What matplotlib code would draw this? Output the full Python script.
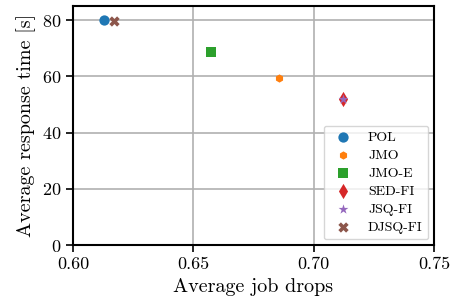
import numpy as np
import matplotlib
matplotlib.use('Agg')
import matplotlib.pyplot as plt

# Computer Modern look
plt.rcParams['font.family'] = 'serif'
plt.rcParams['font.serif'] = ['cmr10']
plt.rcParams['mathtext.fontset'] = 'cm'
plt.rcParams['axes.formatter.use_mathtext'] = True

# Data
policies = ['POL', 'JMO', 'JMO-E', 'SED-FI', 'JSQ-FI', 'DJSQ-FI']
job_drops = [0.6128, 0.6857, 0.6573, 0.7123, 0.7123, 0.6172]
response_time = [80.0, 59.3, 68.5, 51.8, 51.8, 79.8]

markers = ['o', 'h', 's', 'd', '*', 'X']
colors = ['#1f77b4', '#ff7f0e', '#2ca02c', '#d62728', '#9467bd', '#8c564b']
sizes = [55, 35, 50, 60, 55, 55]

fig = plt.figure(figsize=(4.52, 3.06), dpi=100)
ax = fig.add_axes([0.1615, 0.1993, 0.7985, 0.7807])

for name, x, y, m, c, s in zip(policies, job_drops, response_time, markers, colors, sizes):
    ax.scatter(x, y, marker=m, color=c, s=s, label=name, zorder=3, linewidths=0)

ax.set_xlim(0.60, 0.75)
ax.set_ylim(0, 85)
ax.set_xticks([0.60, 0.65, 0.70, 0.75])
ax.set_xticklabels(['0.60', '0.65', '0.70', '0.75'])
ax.set_yticks([0, 20, 40, 60, 80])
ax.tick_params(labelsize=13, length=5, width=1.2, direction='out')
ax.grid(True, color='#b0b0b0', linewidth=1.2)
ax.set_axisbelow(True)
for sp in ax.spines.values():
    sp.set_linewidth(1.5)
    sp.set_color('black')

ax.set_xlabel('Average job drops', fontsize=14.5)
ax.set_ylabel('Average response time [s]', fontsize=14.5)

ax.legend(loc='lower right', fontsize=10, framealpha=0.8, borderaxespad=0.4,
          handletextpad=0.8, labelspacing=0.38)

fig.savefig('out.png', dpi=100)
